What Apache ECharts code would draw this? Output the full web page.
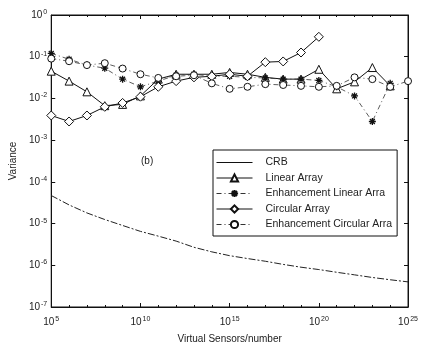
<!DOCTYPE html>
<html>
<head>
<meta charset="utf-8">
<script src="https://cdn.jsdelivr.net/npm/echarts@6/dist/echarts.min.js"></script>
<style>
  html, body { margin: 0; padding: 0; background: #fff; }
  #chart { width: 421px; height: 349px; }
</style>
</head>
<body>
<div id="chart"></div>
<script>
// x values are 10^k, kept as exponents k
const xExp = [5,6,7,8,9,10,11,12,13,14,15,16,17,18,19,20,21,22,23,24,25];
const crb = [4.7e-5,2.8e-5,1.8e-5,1.25e-5,9e-6,6.5e-6,5e-6,3.8e-6,2.7e-6,2.1e-6,1.7e-6,1.45e-6,1.25e-6,1.05e-6,9e-7,7.9e-7,6.8e-7,5.9e-7,5.1e-7,4.5e-7,4e-7];
const linearArr = [0.045,0.026,0.0144,0.0067,0.0072,0.0115,0.029,0.038,0.038,0.038,0.042,0.038,0.032,0.029,0.029,0.05,0.017,0.025,0.055,0.02,null];
const enhLinear = [0.12,0.087,0.063,0.053,0.029,0.019,0.026,0.036,0.038,0.034,0.034,0.032,0.031,0.029,0.029,0.027,0.019,0.0115,0.0028,0.023,null];
const circularArr = [0.0039,0.0028,0.0039,0.0063,0.0078,0.011,0.019,0.026,0.032,0.034,0.038,0.034,0.074,0.077,0.126,0.3,null,null,null,null,null];
const enhCircular = [0.09,0.078,0.063,0.07,0.052,0.038,0.031,0.034,0.036,0.023,0.017,0.019,0.022,0.021,0.02,0.019,0.02,0.032,0.029,0.019,0.026];
const names = ['CRB','Linear Array','Enhancement Linear Arra','Circular Array','Enhancement Circular Arra'];

const pairs = arr => arr.map((v, i) => [xExp[i], v]).filter(p => p[1] != null);
const FONT = 'Liberation Sans';
const sup = { sup: { fontSize: 7, verticalAlign: 'top', padding: [0,0,6,1], fontFamily: FONT, color: '#222' } };
const starPath = 'path://M5,0L5,10M0,5L10,5M1.5,1.5L8.5,8.5M1.5,8.5L8.5,1.5';

const chart = echarts.init(document.getElementById('chart'));
const mk = { color: '#fff', borderColor: '#111', borderWidth: 1 };

const option = {
  animation: false,
  backgroundColor: '#fff',
  textStyle: { fontFamily: FONT },
  grid: { left: 50, right: 9, top: 15, bottom: 38, show: true, borderColor: '#111', borderWidth: 1 },
  legend: {
    orient: 'vertical',
    left: 213, top: 150,
    backgroundColor: '#fff',
    borderColor: '#111', borderWidth: 1, borderRadius: 0,
    padding: [7, 5, 6, 3],
    itemWidth: 36, itemHeight: 9, itemGap: 4.5,
    lineStyle: { width: 1 },
    textStyle: { fontSize: 10.5, color: '#222', fontFamily: FONT, padding: [0,0,0,8] },
    data: [
      { name: names[0], icon: 'path://M0,0L40,0L40,1.2L0,1.2Z', itemStyle: { color: '#111', borderWidth: 0 } },
      names[1], names[2], names[3], names[4]
    ]
  },
  graphic: [
    { type: 'text', left: 141, top: 156, style: { text: '(b)', fontSize: 10, fill: '#222', fontFamily: FONT } }
  ],
  xAxis: [
    {
      type: 'value', min: 5, max: 25, interval: 5,
      name: 'Virtual Sensors/number', nameLocation: 'middle', nameGap: 27,
      nameTextStyle: { fontSize: 10, color: '#222', fontFamily: FONT },
      axisLine: { lineStyle: { color: '#111' } },
      axisTick: { inside: true, length: 4, lineStyle: { color: '#111' } },
      minorTick: { show: true, splitNumber: 5, length: 2, lineStyle: { color: '#111' } },
      splitLine: { show: false },
      axisLabel: {
        margin: 9, color: '#222', fontSize: 10,
        formatter: v => '10{sup|' + v + '}', rich: sup
      }
    },
    {
      type: 'value', min: 5, max: 25, interval: 5, position: 'top',
      axisLine: { lineStyle: { color: '#111' } },
      axisTick: { inside: true, length: 4, lineStyle: { color: '#111' } },
      minorTick: { show: true, splitNumber: 5, length: 2, lineStyle: { color: '#111' } },
      splitLine: { show: false }, axisLabel: { show: false }
    }
  ],
  yAxis: [
    {
      type: 'log', logBase: 10, min: 1e-7, max: 1,
      name: 'Variance', nameLocation: 'middle', nameGap: 19, nameRotate: 90,
      nameTextStyle: { fontSize: 10, color: '#222', fontFamily: FONT },
      axisLine: { lineStyle: { color: '#111' } },
      axisTick: { inside: true, length: 4, lineStyle: { color: '#111' } },
      splitLine: { show: false },
      axisLabel: {
        margin: 4, color: '#222', fontSize: 10,
        formatter: v => '10{sup|' + Math.round(Math.log10(v)) + '}', rich: sup
      }
    },
    {
      type: 'log', logBase: 10, min: 1e-7, max: 1, position: 'right',
      axisLine: { lineStyle: { color: '#111' } },
      axisTick: { inside: true, length: 4, lineStyle: { color: '#111' } },
      splitLine: { show: false }, axisLabel: { show: false }
    }
  ],
  series: [
    {
      name: names[0], type: 'line', data: pairs(crb), symbol: 'none',
      lineStyle: { color: '#222', width: 1, type: [7, 2, 2, 2] }, itemStyle: { color: '#222' }
    },
    {
      name: names[1], type: 'line', data: pairs(linearArr), symbol: 'triangle', symbolSize: 8,
      lineStyle: { color: '#111', width: 1 }, itemStyle: mk
    },
    {
      name: names[2], type: 'line', data: pairs(enhLinear), symbol: starPath, symbolSize: 7,
      lineStyle: { color: '#333', width: 0.8, type: [5, 3, 1, 3] },
      itemStyle: { color: 'transparent', borderColor: '#111', borderWidth: 1.3 }
    },
    {
      name: names[3], type: 'line', data: pairs(circularArr), symbol: 'diamond', symbolSize: 9,
      lineStyle: { color: '#111', width: 1 }, itemStyle: mk
    },
    {
      name: names[4], type: 'line', data: pairs(enhCircular), symbol: 'circle', symbolSize: 7,
      lineStyle: { color: '#333', width: 0.8, type: [5, 3, 1, 3] }, itemStyle: mk
    }
  ]
};
chart.setOption(option);
</script>
</body>
</html>
